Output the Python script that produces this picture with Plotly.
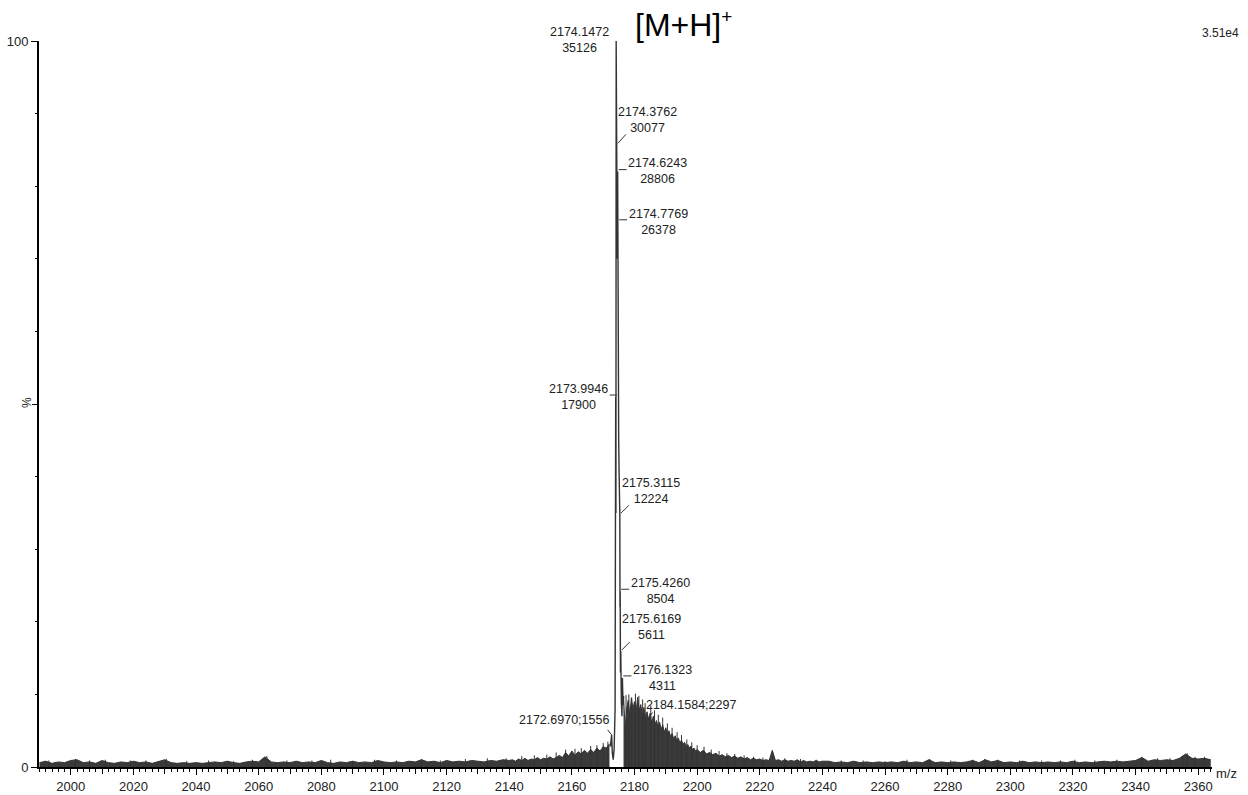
import numpy as np
import plotly.graph_objects as go

BASE_PEAK = 35126  # intensity of the 100 % peak (3.51e4)

# ---- spectrum data (percent of base peak) ----
# left baseline 1990..2140 step 2
left_mz = np.arange(1990, 2141, 2)
left_pct = [0.6, 0.8, 0.5, 0.7, 0.6, 0.9, 1.0, 0.6, 0.7, 0.5,
            0.9, 0.6, 0.5, 0.7, 0.6, 0.8, 0.6, 0.7, 0.5, 0.7,
            1.0, 0.6, 0.5, 0.6, 0.5, 0.6, 0.5, 0.6, 0.7, 0.6,
            0.8, 0.6, 0.5, 0.7, 0.8, 0.7, 1.4, 0.7, 0.6, 0.7,
            0.6, 0.8, 0.6, 0.7, 0.6, 0.9, 0.6, 0.5, 0.7, 0.6,
            0.8, 0.6, 0.7, 0.6, 0.9, 0.7, 0.6, 0.7, 0.6, 0.8,
            0.7, 1.0, 0.7, 0.8, 0.6, 0.9, 0.7, 0.8, 0.7, 0.9,
            0.8, 0.7, 0.9, 0.8, 1.0, 0.9]
# rising foot 2141..2172 step 1
rise_mz = np.arange(2141, 2173, 1)
rise_pct = [1.0, 0.8, 1.1, 0.9, 1.2, 0.9, 1.1, 1.0, 1.3, 1.0,
            1.2, 1.1, 1.4, 1.1, 1.3, 1.6, 1.3, 2.0, 1.5, 2.2,
            1.6, 2.1, 1.8, 2.3, 1.9, 2.4, 2.0, 2.6, 2.2, 2.8,
            2.6, 3.2]
# isotope cluster profile
peak_mz = [2172.3, 2172.5, 2172.697, 2172.9, 2173.2, 2173.5, 2173.8,
           2173.9946, 2174.07, 2174.1472, 2174.26, 2174.3762, 2174.5,
           2174.6243, 2174.7, 2174.7769, 2174.95, 2175.1, 2175.3115,
           2175.37, 2175.426, 2175.52, 2175.6169, 2175.8, 2176.0,
           2176.1323, 2176.35, 2176.5]
peak_pct = [2.8, 3.4, 4.43, 2.0, 1.0, 2.5, 8.0,
            50.96, 35.0, 100.0, 70.0, 85.63, 70.0,
            82.01, 68.0, 75.10, 45.0, 40.0, 34.80,
            22.0, 24.21, 13.0, 15.97, 9.0, 7.0,
            12.27, 8.5, 9.8]
# tail 2176.5..2200 step 0.5
tail_mz = np.arange(2176.5, 2200.01, 0.5)
tail_pct = [9.8, 5.0, 8.0, 9.2, 7.0, 9.5, 8.0, 9.0, 7.5, 9.6,
            7.8, 8.6, 7.0, 8.2, 6.8, 7.6, 6.5, 7.4, 6.0, 7.0,
            5.8, 6.4, 5.5, 6.2, 5.2, 5.8, 4.8, 5.4, 4.6, 5.0,
            4.2, 4.6, 3.9, 4.3, 3.6, 4.0, 3.3, 3.7, 3.1, 3.4,
            2.8, 3.1, 2.6, 2.9, 2.4, 2.6, 2.2, 2.4]
# decay 2201..2240 step 1
decay_mz = np.arange(2201, 2241, 1)
decay_pct = [2.0, 2.3, 1.8, 2.0, 1.7, 1.9, 1.5, 1.7, 1.4, 1.6,
             1.3, 1.5, 1.2, 1.4, 1.1, 1.3, 1.0, 1.2, 1.0, 1.1,
             0.9, 1.0, 0.9, 2.3, 0.9, 1.0, 0.8, 1.0, 0.8, 0.9,
             0.8, 1.0, 0.7, 0.9, 0.7, 0.8, 0.7, 0.9, 0.7, 0.8]
# right baseline 2242..2364 step 2
right_mz = np.arange(2242, 2365, 2)
right_pct = [0.8, 0.6, 0.7, 0.6, 0.8, 0.6, 0.7, 0.6, 0.7, 0.6,
             0.7, 0.6, 0.8, 0.6, 0.7, 0.6, 1.0, 0.6, 0.7, 0.6,
             0.7, 0.6, 0.7, 0.9, 0.6, 1.0, 0.7, 0.9, 0.6, 0.7,
             0.6, 0.8, 0.6, 0.7, 0.6, 0.7, 0.6, 0.7, 0.6, 0.8,
             0.6, 0.7, 0.6, 0.7, 0.8, 0.7, 0.8, 0.7, 0.8, 0.9,
             1.3, 0.8, 1.0, 0.9, 1.0, 0.9, 1.2, 1.8, 1.2, 1.1,
             1.2, 1.0]
# isolated noise spikes (hairs) visible above the band
spike_mz = [1993, 2001.5, 2006, 2011, 2019, 2024, 2030.5, 2037, 2044, 2052,
            2058, 2062.6, 2069, 2077, 2083, 2090, 2097, 2104, 2112, 2118,
            2126, 2133, 2139, 2144, 2148, 2152, 2155, 2158, 2161, 2163,
            2166, 2168, 2170, 2171.5,
            2177.3, 2178.2, 2179.1, 2180.3, 2181.4, 2182.6, 2183.4, 2185.2,
            2186.4, 2187.6, 2189, 2190.5, 2192, 2193.6, 2195, 2196.7, 2198.3,
            2200, 2202.2, 2204.5, 2207, 2209.5, 2212, 2215, 2218, 2221, 2228,
            2233, 2238, 2246, 2253, 2260, 2267, 2274.3, 2281, 2288, 2291.8,
            2296, 2303, 2310, 2316, 2320.6, 2327, 2334, 2342, 2347, 2351,
            2355, 2356.5, 2359, 2362]
spike_pct = [0.9, 1.1, 0.9, 1.0, 0.9, 0.9, 1.1, 0.8, 0.9, 0.8,
             1.0, 1.5, 0.9, 0.9, 1.0, 0.8, 1.0, 0.9, 1.1, 0.9,
             1.1, 1.2, 1.2, 1.5, 1.6, 1.7, 2.0, 2.4, 2.5, 2.6,
             2.9, 3.0, 3.3, 3.5,
             9.9, 10.0, 9.6, 10.1, 9.8, 9.3, 8.8, 8.5,
             7.8, 7.2, 6.8, 6.0, 5.4, 4.8, 4.4, 3.8, 3.4,
             3.0, 2.8, 2.4, 2.2, 1.9, 1.8, 1.6, 1.4, 1.3, 1.2,
             1.1, 1.0, 0.9, 0.9, 0.8, 1.0, 1.1, 0.9, 1.0, 1.1,
             1.0, 0.9, 0.9, 0.9, 1.0, 0.9, 1.0, 1.4, 1.2, 1.2,
             1.5, 1.9, 1.4, 1.4]

# ---- peak labels ----
label_mz = [2174.1472, 2174.3762, 2174.6243, 2174.7769, 2173.9946,
            2175.3115, 2175.4260, 2175.6169, 2176.1323, 2172.6970, 2184.1584]
label_int = [35126, 30077, 28806, 26378, 17900, 12224, 8504, 5611, 4311, 1556, 2297]
label_oneline = [False] * 9 + [True, True]

# axis ticks
xlabel_ticks = list(range(2000, 2361, 20))
xmid_ticks = list(range(2010, 2351, 20))

# layout of labels (pixel offsets from the labelled point)
label_shift = [(-37, 1), (31, 25), (40, 1), (40, 0), (-37, 0),
               (31, 23), (40, 0), (31, 24), (40, 0), (-48, 15), (43, 15)]
leader = [((-7, 2), (0, 2)), ((1, 2), (9, 11)), ((1, 2), (9, 2)), ((1, 2), (9, 2)),
          ((-6, 2), (1, 2)), ((1, 1), (9, 9)), ((1, 2), (9, 2)), ((1, 1), (9, 9)),
          ((1, 2), (9, 2)), ((-4, 5), (0, 0)), ((5, 7), (0, 0))]

XMIN, XMAX = 1989.85, 2364.4
INK = "#333333"
TXT = "#222222"
FONT = "Liberation Sans, Arial, sans-serif"

fig = go.Figure()

left_x = list(left_mz) + list(rise_mz)
left_y = list(left_pct) + list(rise_pct)
fig.add_trace(go.Scatter(x=left_x, y=left_y, mode="lines", fill="tozeroy",
                         line=dict(color=INK, width=1), fillcolor="#3a3a3a",
                         hoverinfo="skip", showlegend=False))
right_x = list(tail_mz) + list(decay_mz) + list(right_mz)
right_y = list(tail_pct) + list(decay_pct) + list(right_pct)
fig.add_trace(go.Scatter(x=right_x, y=right_y, mode="lines", fill="tozeroy",
                         line=dict(color=INK, width=1), fillcolor="#3a3a3a",
                         hoverinfo="skip", showlegend=False))
sx_, sy_ = [], []
for m, h in zip(spike_mz, spike_pct):
    sx_ += [m, m, None]
    sy_ += [0, h, None]
fig.add_trace(go.Scatter(x=sx_, y=sy_, mode="lines", line=dict(color=INK, width=1),
                         hoverinfo="skip", showlegend=False))
fig.add_trace(go.Scatter(x=peak_mz, y=peak_pct, mode="lines",
                         line=dict(color=INK, width=1.4),
                         hoverinfo="skip", showlegend=False))
# empty trace to create the overlay axes carrying the extra ticks
fig.add_trace(go.Scatter(x=[None], y=[None], xaxis="x2", yaxis="y2",
                         hoverinfo="skip", showlegend=False))

annotations = []
shapes = []
for mz, inten, one, (sx, sy), ((lx0, ly0), (lx1, ly1)) in zip(
        label_mz, label_int, label_oneline, label_shift, leader):
    pct = inten / BASE_PEAK * 100
    txt = f"{mz:.4f};{inten}" if one else f"{mz:.4f}<br>{inten}"
    annotations.append(dict(x=mz, y=pct, xref="x", yref="y", text=txt,
                            showarrow=False, xshift=sx, yshift=sy,
                            xanchor="center", yanchor="middle", align="center",
                            font=dict(family=FONT, size=12.5, color=TXT)))
    shapes.append(dict(type="line", xref="x", yref="y",
                       xsizemode="pixel", ysizemode="pixel",
                       xanchor=mz, yanchor=pct,
                       x0=lx0, x1=lx1, y0=ly0, y1=ly1,
                       line=dict(color=INK, width=1)))

annotations += [
    dict(text="[M+H]<sup><span style='font-size:19px'>+</span></sup>",
         xref="paper", yref="paper", x=(633 - 39) / 1173,
         y=(767 - 24) / 726, xanchor="left", yanchor="middle", showarrow=False,
         font=dict(family=FONT, size=32, color="#000000")),
    dict(text="3.51e4", xref="paper", yref="paper", x=(1241 - 39) / 1173,
         y=(767 - 33) / 726, xanchor="right", yanchor="middle", showarrow=False,
         font=dict(family=FONT, size=12, color=TXT)),
    dict(text="m/z", xref="paper", yref="paper", x=(1214 - 39) / 1173,
         y=(767 - 773) / 726, xanchor="left", yanchor="middle", showarrow=False,
         font=dict(family=FONT, size=13, color=TXT)),
    dict(text="%", xref="paper", yref="paper", x=(27 - 39) / 1173,
         y=(767 - 403) / 726, xanchor="center", yanchor="middle", showarrow=False,
         textangle=-90, font=dict(family=FONT, size=12, color=TXT)),
]

fig.update_layout(
    width=1248, height=795,
    margin=dict(l=39, r=36, t=41, b=28),
    paper_bgcolor="white", plot_bgcolor="white",
    font=dict(family=FONT, size=13, color=TXT),
    annotations=annotations, shapes=shapes,
    xaxis=dict(range=[XMIN, XMAX], showgrid=False, zeroline=False, automargin=False,
               showline=True, linecolor="black", linewidth=2,
               ticks="outside", ticklen=6, tickwidth=1, tickcolor="black",
               tickvals=xlabel_ticks, ticktext=[str(v) for v in xlabel_ticks],
               tickfont=dict(family=FONT, size=13, color=TXT),
               minor=dict(dtick=2, tick0=2000, ticks="outside", ticklen=3,
                          tickcolor="black", tickwidth=1, showgrid=False)),
    xaxis2=dict(range=[XMIN, XMAX], overlaying="x", anchor="y", side="bottom",
                showgrid=False, zeroline=False, automargin=False, showline=False,
                ticks="outside", ticklen=6, tickwidth=1, tickcolor="black",
                tickvals=xmid_ticks, showticklabels=False),
    yaxis=dict(range=[0, 100], showgrid=False, zeroline=False, automargin=False,
               showline=True, linecolor="black", linewidth=2,
               ticks="outside", ticklen=6, tickwidth=1, tickcolor="black",
               tickvals=[0, 100], ticktext=["0", "100"],
               tickfont=dict(family=FONT, size=13, color=TXT),
               minor=dict(dtick=10, tick0=0, ticks="outside", ticklen=2,
                          tickcolor="black", tickwidth=1, showgrid=False)),
    yaxis2=dict(range=[0, 100], overlaying="y", anchor="x", side="left",
                showgrid=False, zeroline=False, automargin=False, showline=False,
                ticks="outside", ticklen=6, tickwidth=1, tickcolor="black",
                tickvals=[50], showticklabels=False),
)

fig.write_html("out.html")
